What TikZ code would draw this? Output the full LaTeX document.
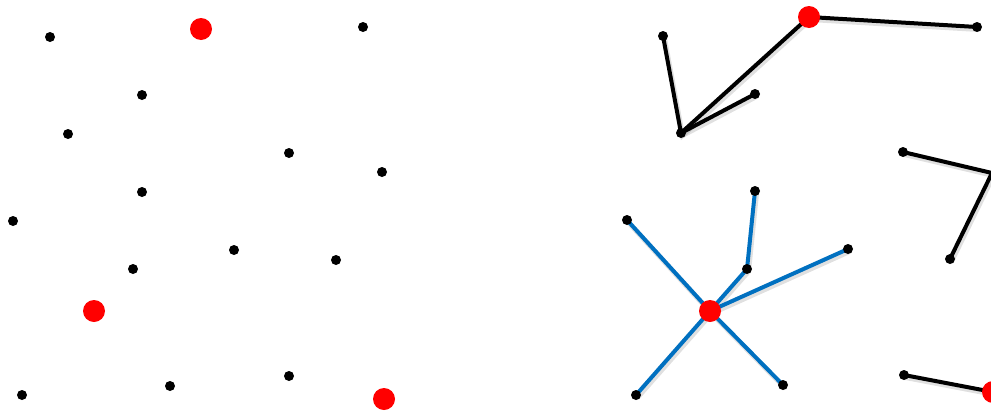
\documentclass[tikz,border=0pt]{standalone}
\usetikzlibrary{calc}
\definecolor{linkblue}{RGB}{0,112,192}
\tikzset{
  pt/.style={circle,fill=black,inner sep=0pt,minimum size=10pt},
  hub/.style={circle,fill=red,inner sep=0pt,minimum size=22pt},
  blk/.style={draw=black,line width=4pt,line cap=round},
  blu/.style={draw=linkblue,line width=4pt,line cap=round},
  shd/.style={draw=black,line width=5pt,opacity=0.12,line cap=round,transform canvas={shift={(1.5pt,-2.5pt)}}},
}
\begin{document}
\begin{tikzpicture}[x=1pt,y=-1pt]
\useasboundingbox (0,0) rectangle (991,410);
% left: scattered points
\node[pt] (l1) at (50,37) {};
\node[hub] (l2) at (201,29) {};
\node[pt] (l3) at (363,27) {};
\node[pt] (l4) at (142,95) {};
\node[pt] (l5) at (68,134) {};
\node[pt] (l6) at (289,153) {};
\node[pt] (l7) at (382,172) {};
\node[pt] (l8) at (142,192) {};
\node[pt] (l9) at (13,221) {};
\node[pt] (l10) at (234,250) {};
\node[pt] (l11) at (336,260) {};
\node[pt] (l12) at (133,269) {};
\node[hub] (l13) at (94,311) {};
\node[pt] (l14) at (22,395) {};
\node[pt] (l15) at (170,386) {};
\node[pt] (l16) at (289,376) {};
\node[hub] (l17) at (384,399) {};
% right: trees
\coordinate (ra) at (809,17);
\coordinate (rb) at (977,27);
\coordinate (rc) at (663,36);
\coordinate (rd) at (681,133);
\coordinate (re) at (755,94);
\coordinate (rf) at (903,152);
\coordinate (rg) at (992,173);
\coordinate (rh) at (950,259);
\coordinate (bc) at (710,311);
\coordinate (b1) at (627,220);
\coordinate (b2) at (755,191);
\coordinate (b3) at (747,269);
\coordinate (b4) at (848,249);
\coordinate (b5) at (636,395);
\coordinate (b6) at (783,385);
\coordinate (rk) at (904,375);
\coordinate (rl) at (993,392);
% shadows
\draw[shd] (rb) -- (ra) -- (rd) -- (rc);
\draw[shd] (rd) -- (re);
\draw[shd] (rf) -- (rg) -- (rh);
\draw[shd] (rk) -- (rl);
\draw[shd] (bc) -- (b1); \draw[shd] (bc) -- (b3) -- (b2);
\draw[shd] (bc) -- (b4); \draw[shd] (bc) -- (b5); \draw[shd] (bc) -- (b6);
% edges
\draw[blk] (rb) -- (ra);
\draw[blk] (ra) -- (rd);
\draw[blk] (rc) -- (rd);
\draw[blk] (rd) -- (re);
\draw[blk,line join=miter] (rf) -- (rg) -- (rh);
\draw[blk] (rk) -- (rl);
\draw[blu] (bc) -- (b1);
\draw[blu] (bc) -- (b3);
\draw[blu] (b3) -- (b2);
\draw[blu] (bc) -- (b4);
\draw[blu] (bc) -- (b5);
\draw[blu] (bc) -- (b6);
% nodes
\node[hub] (na) at (ra) {};
\node[pt] (nb) at (rb) {};
\node[pt] (nc) at (rc) {};
\node[pt] (nd) at (rd) {};
\node[pt] (ne) at (re) {};
\node[pt] (nf) at (rf) {};
\node[pt] (nh) at (rh) {};
\node[hub] (nbc) at (bc) {};
\node[pt] (n1) at (b1) {};
\node[pt] (n2) at (b2) {};
\node[pt] (n3) at (b3) {};
\node[pt] (n4) at (b4) {};
\node[pt] (n5) at (b5) {};
\node[pt] (n6) at (b6) {};
\node[pt] (nk) at (rk) {};
\node[hub] (nl) at (rl) {};
\end{tikzpicture}
\end{document}
